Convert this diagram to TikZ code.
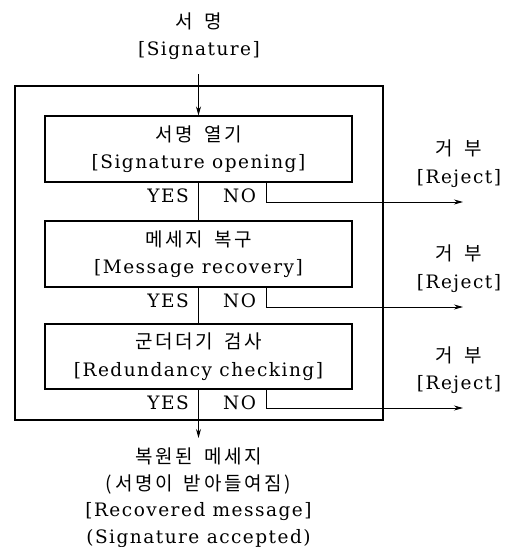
\documentclass[tikz,border=0pt]{standalone}
\usepackage{fontspec}
\setmainfont[LetterSpace=8]{DejaVu Serif}
\newfontfamily\krfont[WordSpace=1.6,LetterSpace=14]{Noto Sans CJK KR}
\newcommand{\kr}{\krfont\fontsize{19}{20}\selectfont}
\usetikzlibrary{arrows.meta,calc}
\begin{document}
\begin{tikzpicture}[x=1pt,y=-1pt,
  font=\fontsize{18.5}{27.5}\selectfont,
  box/.style={draw, line width=1.1pt, minimum width=307pt, minimum height=66pt,
    align=center, inner sep=0pt},
  outerbox/.style={draw, line width=2pt, minimum width=368pt, minimum height=334pt, inner sep=0pt},
  lbl/.style={align=center, inner sep=0pt},
  conn/.style={line width=0.8pt},
  arr/.style={conn, -{Stealth[length=9pt,width=5pt]}},
  yn/.style={inner sep=0pt, font=\fontsize{18.5}{20}\selectfont}]
\useasboundingbox (0,0) rectangle (513,547);

% outer frame
\node[outerbox] (outer) at (198.5,253) {};

% input label
\node[lbl] (sig) at (199,36) {{\kr 서\hspace{0.6em}명}\\{}[Signature]};

% process boxes
\node[box] (b1) at (198.5,149) {{\kr 서명 열기}\\{}[Signature opening]};
\node[box] (b2) at (198.5,254) {{\kr 메세지 복구}\\{}[Message recovery]};
\node[box, minimum height=65pt] (b3) at (198.5,356.5) {{\kr 군더더기 검사}\\{}[Redundancy checking]};

% YES / NO labels
\node[yn, anchor=east] (yes1) at (189,196) {YES};
\node[yn, anchor=west] (no1) at (223,196) {NO};
\node[yn, anchor=east] (yes2) at (189,301) {YES};
\node[yn, anchor=west] (no2) at (223,301) {NO};
\node[yn, anchor=east] (yes3) at (189,403) {YES};
\node[yn, anchor=west] (no3) at (223,403) {NO};

% reject labels
\node[lbl] (rj1) at (459,163.5) {{\kr 거\hspace{0.6em}부}\\{}[Reject]};
\node[lbl] (rj2) at (459,268.5) {{\kr 거\hspace{0.6em}부}\\{}[Reject]};
\node[lbl] (rj3) at (459,370) {{\kr 거\hspace{0.6em}부}\\{}[Reject]};

% result label
\node[lbl, font=\fontsize{18.5}{26.5}\selectfont] (res) at (198.5,497.5)
  {{\kr 복원된 메세지}\\{\kr (서명이 받아들여짐)}\\{}[Recovered message]\\(Signature accepted)};

% coordinates
\coordinate (sigtail) at (198.5,74);
\coordinate (restip) at (198.5,438);
\coordinate (n1) at ($(b1.south east)+(-86,0)$);
\coordinate (n2) at ($(b2.south east)+(-86,0)$);
\coordinate (n3) at ($(b3.south east)+(-86,0)$);
\coordinate (rt1) at (463,202);
\coordinate (rt2) at (463,307);
\coordinate (rt3) at (463,408);

% connectors
\draw[arr] (sigtail) -- (b1.north);
\draw[conn] (b1.south) -- (b2.north);
\draw[conn] (b2.south) -- (b3.north);
\draw[arr] (b3.south) -- (restip);
\draw[arr] (n1) |- (rt1);
\draw[arr] (n2) |- (rt2);
\draw[arr] (n3) |- (rt3);
\end{tikzpicture}
\end{document}
